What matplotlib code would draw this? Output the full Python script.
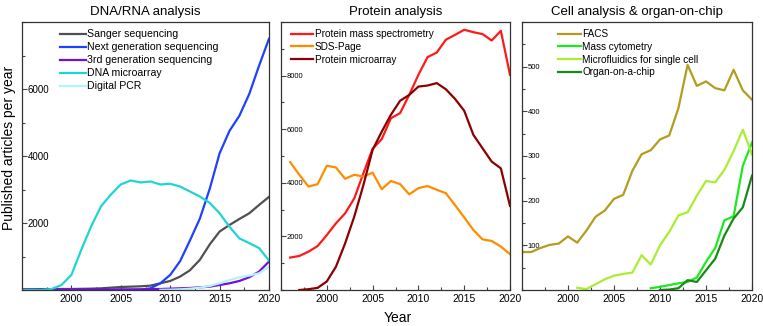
import matplotlib
matplotlib.use("Agg")
import numpy as np
import matplotlib.pyplot as plt
from matplotlib.ticker import MultipleLocator, FixedLocator

plt.rcParams["font.family"] = ["Liberation Sans", "DejaVu Sans"]

# ---- DNA/RNA analysis ----
years_dna = list(range(1995, 2021))
sanger = [20, 20, 25, 25, 30, 30, 35, 40, 50, 70, 90, 100, 110, 130, 200, 270,
          400, 590, 900, 1360, 1745, 1940, 2120, 2290, 2540, 2780]
ngs = [0, 0, 0, 0, 0, 0, 0, 0, 0, 0, 0, 0, 10, 50, 200, 450,
       860, 1480, 2130, 3020, 4080, 4750, 5200, 5850, 6700, 7500]
third_gen = [10, 10, 10, 10, 15, 15, 15, 15, 15, 15, 20, 20, 20, 25, 30, 40,
             50, 60, 80, 100, 150, 200, 270, 380, 550, 850]
dna_microarray = [0, 0, 0, 30, 150, 450, 1200, 1900, 2500, 2850, 3150, 3270, 3210,
                  3240, 3150, 3170, 3090, 2940, 2790, 2600, 2290, 1890, 1540, 1400, 1250, 880]
years_dpcr = list(range(2009, 2021))
digital_pcr = [5, 10, 20, 40, 70, 120, 200, 300, 380, 430, 500, 700]

# ---- Protein analysis ----
years_prot = list(range(1996, 2021))
protein_ms = [1210, 1270, 1430, 1640, 2050, 2490, 2860, 3420, 4360, 5270, 5630, 6410, 6600,
              7280, 8030, 8690, 8860, 9340, 9520, 9710, 9620, 9550, 9310, 9670, 8030]
sds_page = [4770, 4300, 3860, 3950, 4640, 4570, 4150, 4300, 4230, 4380, 3760, 4070, 3950,
            3570, 3800, 3880, 3740, 3610, 3170, 2710, 2240, 1890, 1830, 1620, 1340]
years_pmicro = list(range(1997, 2021))
protein_microarray = [0, 30, 80, 320, 870, 1740, 2740, 3920, 5230, 5910, 6540, 7060, 7280,
                      7590, 7630, 7720, 7490, 7130, 6690, 5790, 5290, 4790, 4540, 3140]

# ---- Cell analysis & organ-on-chip ----
years_facs = list(range(1995, 2021))
facs = [85, 85, 94, 101, 104, 120, 106, 133, 164, 178, 204, 213, 267, 304, 313, 337,
        346, 407, 504, 457, 467, 452, 447, 493, 447, 426]
years_mf = list(range(2001, 2021))
microfluidics = [5, 2, 13, 24, 32, 36, 39, 78, 57, 100, 130, 167, 174, 211, 244, 241,
                 269, 311, 359, 304]
years_mc = list(range(2009, 2021))
mass_cytometry = [4, 7, 11, 15, 18, 28, 63, 94, 156, 165, 278, 330]
years_ooc = list(range(2010, 2021))
organ_on_chip = [0, 1, 4, 22, 18, 44, 70, 122, 160, 185, 256]


def style_axis(ax, ymax, ymajor, yminor, ylabels_size):
    ax.set_xlim(1995, 2020)
    ax.set_ylim(0, ymax)
    ax.xaxis.set_major_locator(FixedLocator([2000, 2005, 2010, 2015, 2020]))
    ax.xaxis.set_minor_locator(MultipleLocator(2.5))
    ax.yaxis.set_major_locator(FixedLocator(ymajor))
    ax.yaxis.set_minor_locator(MultipleLocator(yminor))
    ax.tick_params(which="both", direction="in", color="#444444")
    ax.tick_params(which="major", length=3.5, width=0.8)
    ax.tick_params(which="minor", length=2.5, width=0.8)
    ax.tick_params(axis="x", labelsize=7.5, pad=3)
    ax.tick_params(axis="y", labelsize=ylabels_size, pad=-4)
    for lab in ax.get_yticklabels():
        lab.set_horizontalalignment("left")
    for s in ax.spines.values():
        s.set_linewidth(0.9)
        s.set_color("#333333")


fig = plt.figure(figsize=(7.63, 3.26), dpi=100)
ax1 = fig.add_axes([22 / 763, 36 / 326, 247 / 763, 268 / 326])
ax2 = fig.add_axes([281 / 763, 36 / 326, 229 / 763, 268 / 326])
ax3 = fig.add_axes([522 / 763, 36 / 326, 230 / 763, 268 / 326])

lw = 1.6
ax1.plot(years_dna, sanger, color="#505050", lw=lw, label="Sanger sequencing")
ax1.plot(years_dna, ngs, color="#2040ff", lw=lw, label="Next generation sequencing")
ax1.plot(years_dna, third_gen, color="#7010e0", lw=lw, label="3rd generation sequencing")
ax1.plot(years_dna, dna_microarray, color="#20d4d4", lw=lw, label="DNA microarray")
ax1.plot(years_dpcr, digital_pcr, color="#b8f2f8", lw=lw, label="Digital PCR")
style_axis(ax1, 8000, [2000, 4000, 6000], 1000, 7)
ax1.set_title("DNA/RNA analysis", fontsize=9.5, pad=5)

ax2.plot(years_prot, protein_ms, color="#ff1a1a", lw=lw, label="Protein mass spectrometry")
ax2.plot(years_prot, sds_page, color="#ff8c00", lw=lw, label="SDS-Page")
ax2.plot(years_pmicro, protein_microarray, color="#8b0000", lw=lw, label="Protein microarray")
style_axis(ax2, 10000, [2000, 4000, 6000, 8000], 1000, 5.5)
ax2.set_title("Protein analysis", fontsize=9.5, pad=5)

ax3.plot(years_facs, facs, color="#b49c1e", lw=lw, label="FACS")
ax3.plot(years_mc, mass_cytometry, color="#1ee81e", lw=lw, label="Mass cytometry")
ax3.plot(years_mf, microfluidics, color="#aaee33", lw=lw, label="Microfluidics for single cell")
ax3.plot(years_ooc, organ_on_chip, color="#178a17", lw=lw, label="Organ-on-a-chip")
style_axis(ax3, 600, [100, 200, 300, 400, 500], 50, 5.5)
ax3.set_title("Cell analysis & organ-on-chip", fontsize=9.5, pad=5)

# legend placement per panel (anchor x as fraction of axes width)
legend_cfg = [(ax1, 0.125, 7.6, 2.4), (ax2, 0.015, 7.2, 2.2), (ax3, 0.125, 7.2, 2.3)]
for ax, x0, fs, hl in legend_cfg:
    ax.legend(loc="upper left", frameon=False, fontsize=fs, handlelength=hl,
              handletextpad=0.15, labelspacing=0.28, borderaxespad=0.3,
              bbox_to_anchor=(x0, 1.0))

fig.text(0.012, 0.545, "Published articles per year", rotation=90, fontsize=10,
         ha="center", va="center")
fig.text(0.522, 0.025, "Year", fontsize=10, ha="center", va="center")

fig.savefig("out.png", dpi=100)
